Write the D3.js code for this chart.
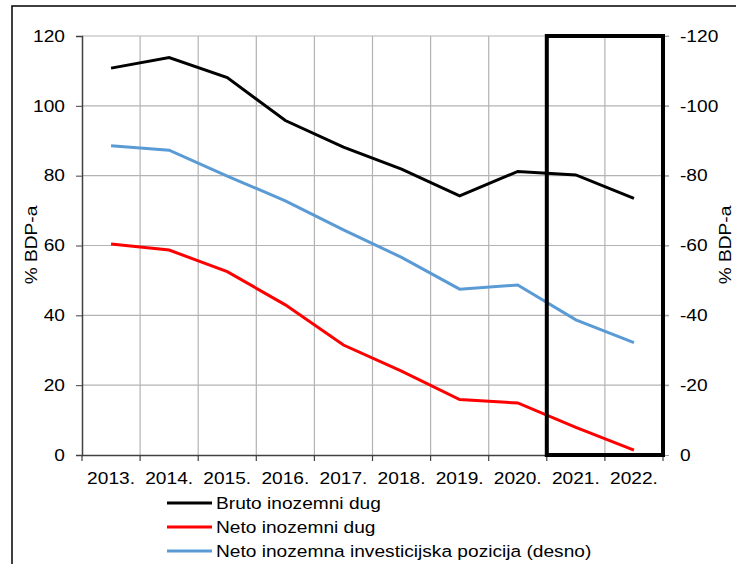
<!DOCTYPE html>
<html>
<head>
<meta charset="utf-8">
<script src="https://cdn.jsdelivr.net/npm/d3@7"></script>
<style>
  body { margin: 0; background: #fff; }
  svg { display: block; font-family: "Liberation Sans", Arial, sans-serif; }
</style>
</head>
<body>
<svg id="chart" width="736" height="564"></svg>
<script>
// godine
var years = ["2013.", "2014.", "2015.", "2016.", "2017.", "2018.", "2019.", "2020.", "2021.", "2022."];
// % BDP-a
var brutoDug = [110.8, 113.8, 108.1, 95.8, 88.2, 81.9, 74.2, 81.2, 80.2, 73.5];
var netoDug = [60.4, 58.7, 52.5, 43.0, 31.5, 24.0, 15.9, 14.9, 7.9, 1.4];
var netoPozicija = [-88.6, -87.3, -79.9, -72.8, -64.5, -56.6, -47.5, -48.7, -38.7, -32.2];
var leftTicks = [0, 20, 40, 60, 80, 100, 120];
var rightTicks = [0, -20, -40, -60, -80, -100, -120];
var legendNames = ["Bruto inozemni dug", "Neto inozemni dug", "Neto inozemna investicijska pozicija (desno)"];
var colors = ["#000000", "#ff0000", "#5b9bd5"];

var FS = "16.5px";
var SX = 1.16; // tekst je u originalu malo razvučen vodoravno

var svg = d3.select("#chart");
var margin = {left: 82, right: 663, top: 36, bottom: 455};

var x = d3.scaleBand().domain(years).range([margin.left, margin.right]).padding(0);
var y = d3.scaleLinear().domain([0, 120]).range([margin.bottom, margin.top]);
var y2 = d3.scaleLinear().domain([0, -120]).range([margin.bottom, margin.top]);

// razvuci tekst: x,y -> transform
function stretch(sel) {
    sel.each(function() {
        var t = d3.select(this);
        var tx = +t.attr("x") || 0, ty = +t.attr("y") || 0;
        t.attr("x", null).attr("y", null)
            .attr("transform", "translate(" + tx + "," + ty + ") scale(" + SX + ",1)");
    });
}

// okvir
svg.append("rect")
    .attr("x", 12).attr("y", 6)
    .attr("width", 740).attr("height", 570)
    .attr("fill", "none").attr("stroke", "#000").attr("stroke-width", 1.5);

// mreža
svg.append("g").selectAll("line.h")
    .data(leftTicks.filter(function(d){ return d > 0; }))
    .enter().append("line")
    .attr("x1", margin.left).attr("x2", margin.right + 6)
    .attr("y1", function(d){ return y(d); }).attr("y2", function(d){ return y(d); })
    .attr("stroke", "#b3b3b3").attr("stroke-width", 1.2);

svg.append("g").selectAll("line.v")
    .data(years.slice(1))
    .enter().append("line")
    .attr("x1", function(d){ return x(d); }).attr("x2", function(d){ return x(d); })
    .attr("y1", margin.top).attr("y2", margin.bottom)
    .attr("stroke", "#b3b3b3").attr("stroke-width", 1.2);

// lijeva os
var leftAxis = svg.append("g")
    .attr("transform", "translate(" + margin.left + ",0)")
    .call(d3.axisLeft(y).tickValues(leftTicks).tickSize(6).tickPadding(11));
leftAxis.select(".domain").attr("stroke", "#404040").attr("stroke-width", 1.5);
leftAxis.selectAll(".tick line").attr("stroke", "#404040");

// desna os (crtica umjesto minusa)
var rightAxis = svg.append("g")
    .attr("transform", "translate(" + margin.right + ",0)")
    .call(d3.axisRight(y2).tickValues(rightTicks).tickSize(6).tickPadding(11)
        .tickFormat(function(d){ return d === 0 ? "0" : "-" + Math.abs(d); }));
rightAxis.select(".domain").attr("stroke", "#404040");
rightAxis.selectAll(".tick line").attr("stroke", "#a0a0a0");

// donja os
var bottomAxis = svg.append("g")
    .attr("transform", "translate(0," + margin.bottom + ")")
    .call(d3.axisBottom(x).tickSize(0).tickPadding(17));
bottomAxis.select(".domain").attr("stroke", "#404040").attr("stroke-width", 1.5);
bottomAxis.selectAll(".tick line").remove();
svg.append("g").selectAll("line")
    .data(years.concat(["end"]))
    .enter().append("line")
    .attr("x1", function(d, i){ return margin.left + i * x.bandwidth(); })
    .attr("x2", function(d, i){ return margin.left + i * x.bandwidth(); })
    .attr("y1", margin.bottom).attr("y2", margin.bottom + 6)
    .attr("stroke", "#404040").attr("stroke-width", 1.2);

svg.selectAll(".tick text")
    .style("font-size", FS)
    .style("font-family", "Liberation Sans, Arial, sans-serif")
    .attr("fill", "#000")
    .call(stretch);

// naslovi osi
svg.append("text")
    .attr("transform", "translate(37,245) rotate(-90) scale(" + SX + ",1)")
    .attr("text-anchor", "middle")
    .style("font-size", FS)
    .text("% BDP-a");
svg.append("text")
    .attr("transform", "translate(731,245) rotate(-90) scale(" + SX + ",1)")
    .attr("text-anchor", "middle")
    .style("font-size", FS)
    .text("% BDP-a");

// linije
var lineL = d3.line()
    .x(function(d, i){ return x(years[i]) + x.bandwidth() / 2; })
    .y(function(d){ return y(d); });
var lineR = d3.line()
    .x(function(d, i){ return x(years[i]) + x.bandwidth() / 2; })
    .y(function(d){ return y2(d); });

svg.append("path").datum(netoPozicija)
    .attr("d", lineR).attr("fill", "none")
    .attr("stroke", colors[2]).attr("stroke-width", 3);
svg.append("path").datum(brutoDug)
    .attr("d", lineL).attr("fill", "none")
    .attr("stroke", colors[0]).attr("stroke-width", 3);
svg.append("path").datum(netoDug)
    .attr("d", lineL).attr("fill", "none")
    .attr("stroke", colors[1]).attr("stroke-width", 3);

// okvir za projekcije (2021.-2022.)
svg.append("rect")
    .attr("x", x("2021.")).attr("y", margin.top)
    .attr("width", x.bandwidth() * 2).attr("height", margin.bottom - margin.top)
    .attr("fill", "none").attr("stroke", "#000").attr("stroke-width", 4);

// legenda
var legend = svg.append("g").selectAll("g")
    .data(legendNames)
    .enter().append("g")
    .attr("transform", function(d, i){ return "translate(167," + (503 + i * 24) + ")"; });
legend.append("line")
    .attr("x1", 0).attr("x2", 45)
    .attr("stroke", function(d, i){ return colors[i]; })
    .attr("stroke-width", 3);
legend.append("text")
    .attr("x", 49).attr("y", 6)
    .style("font-size", FS)
    .text(function(d){ return d; })
    .call(stretch);
</script>
</body>
</html>
